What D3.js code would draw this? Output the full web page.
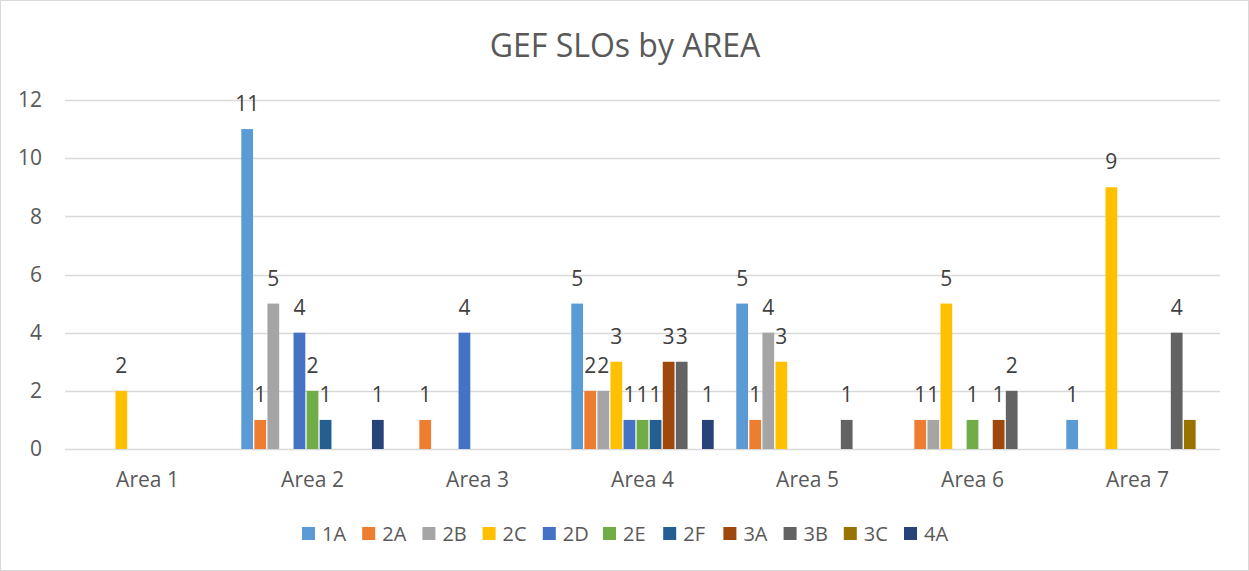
<!DOCTYPE html>
<html>
<head>
<meta charset="utf-8">
<script src="https://cdn.jsdelivr.net/npm/d3@7"></script>
<style>
  body { margin: 0; background: #fff; }
  svg text { font-family: "Open Sans", "Liberation Sans", sans-serif; fill: #595959; }
</style>
</head>
<body>
<svg width="1249" height="571"></svg>
<script>
// data
var areas = ["Area 1", "Area 2", "Area 3", "Area 4", "Area 5", "Area 6", "Area 7"];
var seriesNames = ["1A", "2A", "2B", "2C", "2D", "2E", "2F", "3A", "3B", "3C", "4A"];
var seriesColors = ["#5B9BD5", "#ED7D31", "#A5A5A5", "#FFC000", "#4472C4", "#70AD47",
                    "#255E91", "#9E480E", "#636363", "#997300", "#264478"];
// one row per series, one value per area (null = empty cell)
var s1A = [null, 11, null, 5, 5, null, 1];
var s2A = [null, 1, 1, 2, 1, 1, null];
var s2B = [null, 5, null, 2, 4, 1, null];
var s2C = [2, null, null, 3, 3, 5, 9];
var s2D = [null, 4, 4, 1, null, null, null];
var s2E = [null, 2, null, 1, null, 1, null];
var s2F = [null, 1, null, 1, null, null, null];
var s3A = [null, null, null, 3, null, 1, null];
var s3B = [null, null, null, 3, 1, 2, 4];
var s3C = [null, null, null, null, null, null, 1];
var s4A = [null, 1, null, 1, null, null, null];
var yTicks = [0, 2, 4, 6, 8, 10, 12];
// the one bar that carries no data label in the original
var unlabeled = ["Area 7|3C"];

var allSeries = [s1A, s2A, s2B, s2C, s2D, s2E, s2F, s3A, s3B, s3C, s4A];

var svg = d3.select("svg"),
    width = +svg.attr("width"),
    height = +svg.attr("height");

var margin = {left: 65, right: 29, top: 100, bottom: 122};

// chart frame
svg.append("rect")
    .attr("x", 0.5).attr("y", 0.5)
    .attr("width", width - 1).attr("height", height - 1)
    .attr("fill", "#fff").attr("stroke", "#d9d9d9");

var x0 = d3.scaleBand()
    .domain(areas)
    .range([margin.left, width - margin.right])
    .paddingInner(0.121).paddingOuter(0.0605);

var x1 = d3.scaleBand()
    .domain(seriesNames)
    .range([0, x0.bandwidth()])
    .padding(0.1);

var y = d3.scaleLinear()
    .domain([0, 12])
    .range([height - margin.bottom, margin.top]);

// gridlines
svg.append("g")
    .selectAll("line")
    .data(yTicks)
    .enter()
    .append("line")
    .attr("x1", margin.left).attr("x2", width - margin.right)
    .attr("y1", function (d) { return Math.round(y(d)) + 0.5; })
    .attr("y2", function (d) { return Math.round(y(d)) + 0.5; })
    .attr("stroke", "#d9d9d9").attr("stroke-width", 1.3);

// y axis labels
var yAxis = d3.axisLeft(y).tickValues(yTicks).tickSize(0).tickPadding(0);
var ya = svg.append("g")
    .attr("transform", "translate(42,0)")
    .call(yAxis);
ya.select(".domain").remove();
ya.selectAll("text")
    .attr("font-size", 21).attr("fill", "#595959")
    .style("font-family", "'Open Sans', sans-serif");

// x axis labels
var xAxis = d3.axisBottom(x0).tickSize(0).tickPadding(0);
var xa = svg.append("g")
    .attr("transform", "translate(0," + (height - margin.bottom + 23) + ")")
    .call(xAxis);
xa.select(".domain").remove();
xa.selectAll("text")
    .attr("font-size", 21).attr("fill", "#595959")
    .style("font-family", "'Open Sans', sans-serif");

// bars
var cells = [];
allSeries.forEach(function (vals, si) {
    vals.forEach(function (v, ai) {
        if (v != null) cells.push({area: areas[ai], series: seriesNames[si], color: seriesColors[si], value: v});
    });
});

var bars = svg.append("g");
bars.selectAll("rect")
    .data(cells)
    .enter()
    .append("rect")
    .attr("x", function (d) { return x0(d.area) + x1(d.series); })
    .attr("y", function (d) { return y(d.value); })
    .attr("width", x1.bandwidth())
    .attr("height", function (d) { return y(0) - y(d.value); })
    .attr("fill", function (d) { return d.color; });

// data labels
bars.selectAll("text")
    .data(cells.filter(function (d) { return unlabeled.indexOf(d.area + "|" + d.series) < 0; }))
    .enter()
    .append("text")
    .attr("x", function (d) { return x0(d.area) + x1(d.series) + x1.bandwidth() / 2; })
    .attr("y", function (d) { return y(d.value) - 18; })
    .attr("text-anchor", "middle")
    .attr("font-size", 21)
    .style("fill", "#404040")
    .text(function (d) { return d.value; });

// title
svg.append("text")
    .attr("x", 625).attr("y", 57)
    .attr("text-anchor", "middle")
    .attr("font-size", 32)
    .text("GEF SLOs by AREA");

// legend
var legend = svg.append("g")
    .attr("transform", "translate(302,527)");
var li = legend.selectAll("g")
    .data(seriesNames)
    .enter()
    .append("g")
    .attr("transform", function (d, i) { return "translate(" + (i * 60.2) + ",0)"; });
li.append("rect")
    .attr("width", 13).attr("height", 13)
    .attr("fill", function (d, i) { return seriesColors[i]; });
li.append("text")
    .attr("x", 20).attr("y", 14)
    .attr("font-size", 20)
    .text(function (d) { return d; });
</script>
</body>
</html>
